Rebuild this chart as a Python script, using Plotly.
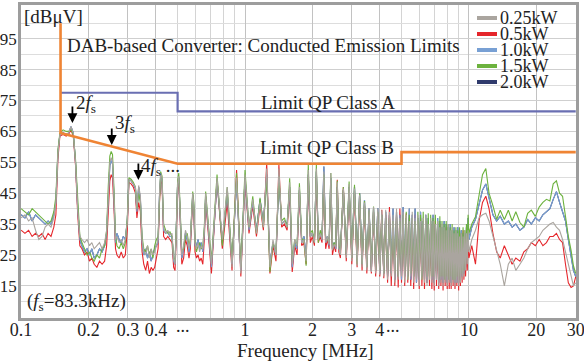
import math
import plotly.graph_objects as go

# ---------------- data ----------------
freq_mhz = [
    0.100, 0.104, 0.108, 0.112, 0.116, 0.120, 0.124, 0.128, 0.132, 0.136, 0.140,
    0.143, 0.146, 0.149, 0.154, 0.159, 0.163, 0.167, 0.171, 0.175, 0.179, 0.183,
    0.187, 0.192, 0.197, 0.202, 0.207, 0.212, 0.218, 0.224, 0.230, 0.236, 0.241,
    0.245, 0.249, 0.2525, 0.256, 0.260, 0.264,
    0.268, 0.274, 0.280, 0.286, 0.292,
    0.298, 0.303, 0.310, 0.317, 0.324, 0.329, 0.335, 0.341, 0.347,
    0.353, 0.360, 0.367, 0.374, 0.381, 0.388, 0.395, 0.402,
    0.409, 0.415, 0.420, 0.426, 0.433, 0.442, 0.452, 0.462, 0.472, 0.480,
    0.487, 0.494, 0.500, 0.506, 0.513, 0.522, 0.532, 0.542, 0.552, 0.562,
    0.570, 0.577, 0.584, 0.591, 0.598, 0.607, 0.617, 0.627, 0.637, 0.648, 0.658,
    0.667, 0.708, 0.75, 0.792, 0.833, 0.875, 0.917, 0.958,
    1.0, 1.042, 1.083, 1.125, 1.167, 1.208, 1.25, 1.292,
    1.333, 1.375, 1.417, 1.458, 1.5, 1.542, 1.583, 1.625,
    1.667, 1.708, 1.75, 1.792, 1.833, 1.875, 1.917, 1.958,
    2.0, 2.042, 2.083, 2.125, 2.167, 2.208, 2.25, 2.292,
    2.333, 2.375, 2.417, 2.458, 2.5, 2.542, 2.583, 2.625,
    2.667, 2.75, 2.833, 2.917, 3.0, 3.083, 3.167, 3.25, 3.333, 3.417,
    3.5, 3.583, 3.667, 3.75, 3.833, 3.917, 4.0, 4.083, 4.167, 4.25,
    4.333, 4.417, 4.5, 4.583, 4.667, 4.75, 4.833, 4.917,
    5.0, 5.083, 5.167, 5.25, 5.333, 5.417, 5.5, 5.583, 5.667, 5.75, 5.833, 5.917,
    6.0, 6.083, 6.167, 6.25, 6.333, 6.417, 6.5, 6.583, 6.667, 6.75, 6.833, 6.917,
    7.0, 7.083, 7.167, 7.25, 7.333, 7.417, 7.5, 7.583, 7.667, 7.75, 7.833, 7.917,
    8.0, 8.083, 8.167, 8.25, 8.333, 8.417, 8.5, 8.583, 8.667, 8.75, 8.833, 8.917,
    9.0, 9.083, 9.167, 9.25, 9.333, 9.417, 9.5, 9.583, 9.667, 9.75, 9.833, 9.917,
    10.0,
    10.3, 10.7, 11.1, 11.5, 11.9, 12.3, 12.8, 13.3, 13.8, 14.4,
    15.0, 15.6, 16.2, 16.9, 17.6, 18.3, 19.0, 19.8, 20.6, 21.4,
    22.2, 23.0, 23.8, 24.6, 25.4, 26.2, 27.0, 27.8, 28.6, 29.3,
    30.0,
]

kw025 = [  # gray
    37, 38, 36, 37, 33, 30, 31, 34, 35, 34, 37,
    42, 58, 64, 64.5, 64, 64.5, 66.5, 64.5, 55, 40, 31,
    30, 29, 30, 28, 29, 27, 28, 29, 27, 29, 33,
    45, 55, 56.5, 55.5, 44, 30,
    31, 29, 30, 28, 30,
    36, 49.5, 49, 48, 47, 40, 47.5, 44, 30,
    26, 25, 28, 24, 27, 25, 26, 28,
    30, 45, 51.5, 50, 34, 32, 33, 31.5, 32, 24,
    22, 35, 48, 50.5, 40, 25, 28, 33, 31, 27,
    30, 40, 45, 41, 29, 27, 29, 26, 28, 27, 33,
    45, 22, 50, 30, 47, 21, 50, 19,
    51, 34, 43, 32, 42, 34, 53, 21,
    30, 25, 53, 35, 36, 34, 48.5, 22,
    30, 28, 47, 29, 30, 23, 52.5, 31,
    32, 29, 53, 30, 32, 30, 52, 29,
    31, 28.5, 51.5, 26.5, 28.5, 27.5, 48.5, 27.5,
    25, 46.5, 24, 48, 23, 46.5, 21.5, 44.5, 21, 42,
    20, 40.2, 19.5, 40.5, 19, 40, 18.5, 39.5, 18, 39.6,
    17, 39, 18, 38, 16, 40, 17, 37,
    18, 39, 16, 38, 17, 36, 18, 39, 16, 37, 17, 38,
    15, 36, 17, 37, 16, 38, 15, 35, 17, 37, 16, 36,
    15, 35, 17, 36, 15, 34, 16, 35, 15, 34, 16, 33,
    15, 35, 16, 33, 15, 34, 16, 32, 15, 33, 16, 32,
    15, 31, 16, 32, 17, 31, 18, 33, 20, 32, 22, 33,
    26,
    30, 33, 37, 38, 38.5, 36, 31, 27, 22, 15,
    22, 24, 20, 22, 24, 27, 29, 30, 31, 33,
    34, 35, 35.5, 34, 33, 30, 26, 22, 18, 15,
    16,
]

kw05 = [  # red
    33, 32, 33, 31, 32, 31, 32, 30, 32, 31, 34,
    38, 56, 63.5, 64, 63.5, 64, 65.5, 63.5, 54, 38, 28,
    27, 25, 26, 23, 24, 22, 21, 23, 22, 23, 28,
    40, 49, 51, 50, 40, 27,
    25, 24, 26, 24, 25,
    33, 48.5, 48, 47, 45, 37, 42, 39, 26,
    22, 20, 23, 19, 21, 20, 21, 24,
    27, 42, 49, 48, 31, 30, 31, 30, 29, 21,
    20, 33, 46, 49, 37, 22, 24, 30, 28, 24,
    27, 37, 43, 39, 26, 24, 25, 23, 24, 22, 30,
    43, 19, 49.5, 27, 42, 20, 52.5, 18,
    49, 32, 41, 31, 41, 33, 54.7, 19,
    28, 23, 54.2, 34, 35, 33, 46, 19.5,
    28, 25, 45, 28, 29, 22, 50, 29,
    31, 28, 50, 29, 31, 29, 49, 27,
    30, 27, 48, 25, 28, 26, 49.3, 26,
    24, 47, 23, 46, 22, 45, 21, 43, 20, 41,
    19, 39, 19, 39, 18, 38, 18, 39.6, 17.5, 38,
    16, 40.5, 15, 37, 15, 38, 14.5, 40,
    16, 37, 15, 38.5, 16, 37, 15, 36, 14, 38, 16, 35,
    14, 37, 15, 34, 14, 36, 16, 33, 15, 35, 14, 34,
    13.5, 36, 15, 33, 14, 35, 15, 32, 13.5, 33, 15, 34,
    14, 31, 14, 33, 14, 31, 15, 32, 14, 30, 15, 31,
    13.5, 32, 15, 30, 16, 33, 17, 29, 18, 30, 20, 31,
    24,
    28, 22, 36, 42, 44, 40, 32, 26, 24, 28,
    25, 22, 24, 23, 26, 27, 29, 28, 30, 28,
    29, 31, 31, 32, 30, 29, 22, 16, 14.5, 15,
    18,
]

kw10 = [  # light blue
    38, 37, 39, 36, 38, 37, 36, 35, 36, 35, 38,
    42, 58, 64, 64.5, 64, 64.5, 66.5, 64.5, 55, 40, 30,
    28, 26, 27, 25, 27, 24, 25, 27, 26, 28, 32,
    44, 54, 55.5, 54.5, 43, 29,
    32, 30, 29, 31, 30,
    36, 49.5, 49, 48, 46.5, 39, 47, 43, 29,
    25, 27, 24, 26, 23, 25, 27, 28,
    29, 44, 50.5, 49.5, 33, 32, 32.5, 31, 31, 23,
    22, 35, 48, 50, 39, 24, 27, 32, 30, 26,
    29, 39, 44.5, 40, 28, 28, 30, 27, 29, 26, 32,
    44, 21, 49, 29, 45, 22, 49, 20,
    50, 33, 42, 33, 43, 35, 51, 22,
    29, 25, 50, 35, 36, 35, 47, 21,
    29, 27, 46, 29, 31, 24, 51, 31,
    32, 30, 52, 30, 32, 30, 53.6, 29,
    31, 28, 50, 27, 29, 27, 47, 27,
    26, 46, 25, 47, 24, 47, 23, 45, 22, 42.8,
    21, 40.2, 20, 40, 20, 40.2, 19, 38, 19, 39,
    18, 38, 19, 40, 17, 39, 18, 38,
    17, 40.5, 18, 37, 18, 40, 17, 38, 18, 40, 16, 37,
    17, 39, 18, 36, 17, 38, 16, 37, 18, 36, 17, 38,
    16, 35, 17, 37, 16, 36, 17, 34, 16, 36, 17, 35,
    16, 34, 17, 35, 16, 33, 17, 34, 16, 33, 16, 34,
    16, 33, 17, 33, 18, 32, 19, 32, 21, 34, 24, 37,
    30,
    34, 36.5, 41, 46, 48, 43, 38, 36, 37.5, 35,
    36, 34, 35, 33, 34, 36.5, 35, 37, 36, 38,
    39, 40, 43, 45.5, 42, 39, 36, 30, 25, 20,
    18,
]

kw15 = [  # green
    40, 39, 38, 40, 39, 38, 37, 36, 35, 36, 39,
    44, 59, 64.5, 65.5, 65, 65, 65.5, 64, 56, 42, 31,
    29, 27, 25, 26, 24, 23, 25, 24, 27, 28, 33,
    47, 57, 58.5, 57.5, 46, 31,
    28, 27, 29, 27, 29,
    37, 50, 49.5, 48.5, 47, 40, 45, 42, 31,
    27, 26, 28, 25, 27, 24, 28, 30,
    31, 46, 52, 50.5, 35, 33, 32, 32.5, 31, 24,
    23, 36, 49, 51.5, 41, 26, 27, 31, 32, 28,
    30, 40, 45.5, 42, 30, 26, 28, 29, 27, 28, 34,
    45.5, 23, 51, 28, 47, 23, 51.5, 21,
    52.5, 34, 44, 32, 43.5, 34, 50, 19.5,
    29, 26, 50.5, 36, 37, 34, 49.8, 23,
    30, 28, 48.2, 30, 30, 21.5, 54.2, 32,
    33, 29, 54.2, 29, 33, 31, 51, 30,
    30, 29, 51.5, 27, 29, 28, 49, 28,
    26, 47, 25, 48.8, 24, 47.7, 22, 45, 22, 42.5,
    21, 39.5, 21, 40.7, 20, 39, 20, 38, 19, 37,
    19, 37, 20, 36, 19, 37.5, 18, 36,
    20, 38, 19, 39, 17, 38, 19, 37, 18, 36, 19, 39,
    18, 38, 17, 39, 19, 37, 18, 38.5, 17, 38, 18, 37,
    18, 38, 19, 36, 17, 37.5, 18, 36, 18, 35, 17, 36,
    18, 35, 17, 34, 18, 35, 17, 33, 17, 34, 18, 33,
    17, 34, 18, 32, 19, 34, 20, 33, 22, 35, 25, 38,
    32,
    35, 37.4, 45, 51, 53, 45, 41, 36.5, 39.5, 36.5,
    39.5, 36, 39, 35.5, 34, 38.5, 39.5, 37.5, 40.5, 42,
    43, 42.5, 48, 49, 45, 44, 37.5, 31, 26.5, 21.5,
    19,
]

# the 2.0 kW curve is not distinguishable from the 1.0 kW curve in the picture
kw20 = list(kw10)

series_names = ["0.25kW", "0.5kW", "1.0kW", "1.5kW", "2.0kW"]
series_values = [kw025, kw05, kw10, kw15, kw20]

# quasi-peak limit lines as drawn in the picture
limit_b_freq = [0.15, 0.15, 0.5, 5.0, 5.0, 30.0]
limit_b_db = [100, 64.5, 54.5, 54.5, 58.3, 58.3]
limit_a_freq = [0.15, 0.5, 0.5, 30.0]
limit_a_db = [77.5, 77.5, 71.5, 71.5]

# harmonic markers (frequency MHz, level dB at arrow tip)
harm_freq = [0.1695, 0.254, 0.334]
harm_db = [67.7, 60.6, 49.3]

x_tick_vals = [0.1, 0.2, 0.3, 0.4, 1, 2, 3, 4, 10, 20, 30]
x_tick_text = ["0.1", "0.2", "0.3", "0.4", "1", "2", "3", "4", "10", "20", "30"]
x_minor_vals = [0.5, 0.6, 0.7, 0.8, 0.9, 5, 6, 7, 8, 9]
y_tick_vals = [15, 25, 35, 45, 55, 65, 75, 85, 95]
y_minor_vals = [10, 20, 30, 40, 50, 60, 70, 80, 90, 100]

# ---------------- styling ----------------
colors = {"0.25kW": "#aaa59f", "0.5kW": "#e5262b", "1.0kW": "#78a0d4",
          "1.5kW": "#6cb23e", "2.0kW": "#2f3a6c"}
ORANGE = "#ef8434"
PURPLE = "#6a6fb2"
FONT = "Liberation Serif"
TXT = "#222222"

W, H = 584, 362
L, R, T, B = 21, 576, 5, 318


def px(x):
    return (x - L) / (R - L)


def py(y):
    return (B - y) / (B - T)


n = min(len(freq_mhz), *[len(v) for v in series_values])

fig = go.Figure()
draw_order = [4, 1, 2, 3, 0]
for i in draw_order:
    name = series_names[i]
    fig.add_trace(go.Scatter(x=freq_mhz[:n], y=series_values[i][:n], mode="lines",
                             name=name, showlegend=False,
                             line=dict(color=colors[name], width=1.1)))

fig.add_trace(go.Scatter(x=limit_a_freq, y=limit_a_db, mode="lines", showlegend=False,
                         name="Limit QP Class A", line=dict(color=PURPLE, width=2.2)))
fig.add_trace(go.Scatter(x=limit_b_freq, y=limit_b_db, mode="lines", showlegend=False,
                         name="Limit QP Class B", line=dict(color=ORANGE, width=2.6)))

shapes = []
annotations = []

# legend (white box, coloured line samples, labels)
shapes.append(dict(type="rect", xref="paper", yref="paper", x0=px(473), x1=1, y0=py(97), y1=1,
                   fillcolor="white", line=dict(width=0), layer="between"))
leg_y = [18, 34, 50, 66, 82]
for name, yy in zip(series_names, leg_y):
    shapes.append(dict(type="line", xref="paper", yref="paper", x0=px(477), x1=px(497),
                       y0=py(yy), y1=py(yy), line=dict(color=colors[name], width=4)))
    annotations.append(dict(text=name, xref="paper", yref="paper", x=px(498), y=py(yy),
                            xanchor="left", yanchor="middle", showarrow=False,
                            font=dict(family=FONT, size=18, color=TXT)))


def label(text, x, y, anchor="left", size=19):
    annotations.append(dict(text=text, xref="paper", yref="paper", x=px(x), y=py(y),
                            xanchor=anchor, yanchor="middle", showarrow=False,
                            font=dict(family=FONT, size=size, color=TXT)))


label("[dBμV]", 22, 16)
label("DAB-based Converter: Conducted Emission Limits", 65, 45)
label("Limit QP Class A", 328, 102, "center")
label("Limit QP Class B", 327, 147, "center")
label("(<i>f</i><sub>s</sub>=83.3kHz)", 25, 302)
label("2<i>f</i><sub>s</sub>", 74, 104)
label("3<i>f</i><sub>s</sub>", 113, 124)
label("4<i>f</i><sub>s</sub> ...", 139, 167)
label("...", 183, 326, "center", 18)
label("...", 393, 326, "center", 18)
label("Frequency [MHz]", 305, 350, "center")

for f, d in zip(harm_freq, harm_db):
    annotations.append(dict(text="", x=math.log10(f), y=d, xref="x", yref="y",
                            showarrow=True, ax=0, ay=-18, arrowhead=2, arrowsize=1.1,
                            arrowwidth=1.8, arrowcolor="black", standoff=0))

fig.update_layout(
    width=W, height=H,
    margin=dict(l=L, r=W - R, t=T, b=H - B, autoexpand=False),
    paper_bgcolor="white", plot_bgcolor="white",
    font=dict(family=FONT, size=18, color=TXT),
    showlegend=False,
    shapes=shapes, annotations=annotations,
    xaxis=dict(type="log", range=[-1.0005, math.log10(30) + 0.0012], automargin=False,
               tickmode="array", tickvals=x_tick_vals, ticktext=x_tick_text,
               ticks="", ticklabelstandoff=-6, ticklabeloverflow="allow",
               showgrid=True, gridcolor="#c2c2c2", gridwidth=1,
               minor=dict(tickmode="array", tickvals=x_minor_vals, showgrid=True,
                          gridcolor="#d4d4d4", gridwidth=1, ticks=""),
               showline=True, linecolor="#9d9d9d", linewidth=2.5, mirror=True,
               zeroline=False, tickfont=dict(family=FONT, size=18, color=TXT)),
    yaxis=dict(range=[4.6, 105.9], tickmode="array", tickvals=y_tick_vals, automargin=False,
               ticks="", ticklabelstandoff=-2,
               showgrid=True, gridcolor="#cfcfcf", gridwidth=1,
               minor=dict(tickmode="array", tickvals=y_minor_vals, showgrid=True,
                          gridcolor="#dddddd", gridwidth=1, ticks=""),
               showline=True, linecolor="#9d9d9d", linewidth=2.5, mirror=True,
               zeroline=False, tickfont=dict(family=FONT, size=17, color=TXT)),
)

fig.write_html("out.html")
